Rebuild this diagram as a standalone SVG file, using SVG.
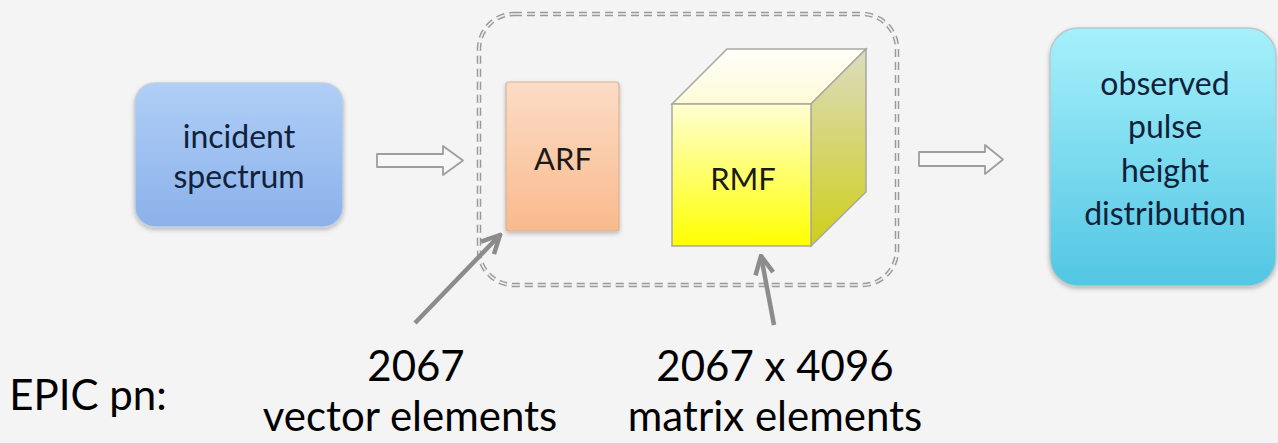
<svg xmlns="http://www.w3.org/2000/svg" width="1278" height="443" viewBox="0 0 1278 443">
<style>
.lbl{font-family:Lato,"Open Sans","Liberation Sans",sans-serif;text-anchor:middle}
.box{font-size:32px;fill:#10213a}
.big{font-size:42px;fill:#000}
.hollow{fill:#f7f7f7;stroke:#9e9e9e;stroke-width:1.8;stroke-linejoin:round}
.ptr{stroke:#8c8c8c;stroke-width:4.5;fill:none;stroke-linecap:butt}
</style>
<defs>
<linearGradient id="gBlue" x1="0" y1="0" x2="0" y2="1"><stop offset="0" stop-color="#b0cff7"/><stop offset="1" stop-color="#8bb1ea"/></linearGradient>
<linearGradient id="gPeach" x1="0" y1="0" x2="0" y2="1"><stop offset="0" stop-color="#fcdcc6"/><stop offset="1" stop-color="#f9ba8c"/></linearGradient>
<linearGradient id="gCyan" x1="0" y1="0" x2="0" y2="1"><stop offset="0" stop-color="#a6f0fb"/><stop offset="1" stop-color="#52c6e3"/></linearGradient>
<linearGradient id="gFront" x1="0" y1="0" x2="0" y2="1"><stop offset="0" stop-color="#ffffd2"/><stop offset="1" stop-color="#ffff00"/></linearGradient>
<linearGradient id="gTop" x1="0" y1="0" x2="0" y2="1"><stop offset="0" stop-color="#fffffa"/><stop offset="1" stop-color="#fdfbd6"/></linearGradient>
<linearGradient id="gSide" x1="0" y1="0" x2="0" y2="1"><stop offset="0" stop-color="#dcdcc0"/><stop offset="1" stop-color="#cfcf1a"/></linearGradient>
<filter id="sh" x="-10%" y="-10%" width="120%" height="125%"><feDropShadow dx="0" dy="2" stdDeviation="2" flood-color="#000" flood-opacity="0.25"/></filter>
<marker id="vh" viewBox="0 0 10 10" refX="9" refY="5" markerWidth="5" markerHeight="5" orient="auto" markerUnits="strokeWidth"><path d="M1,1 L9,5 L1,9" fill="none" stroke="#8c8c8c" stroke-width="2"/></marker>
</defs>
<rect width="1278" height="443" fill="#f4f4f4"/>

<g id="group-frame">
<rect x="479" y="14" width="418" height="271" rx="35" fill="none" stroke="#9a9a9a" stroke-width="4.5" stroke-dasharray="8 5"/>
<rect x="479" y="14" width="418" height="271" rx="35" fill="none" stroke="#f0f0f0" stroke-width="1.6" stroke-dasharray="8 5"/>
</g>

<g id="node-incident">
<rect x="135" y="83" width="208" height="144" rx="20" fill="url(#gBlue)" stroke="#c4cfdc" stroke-width="1.5" filter="url(#sh)"/>
<text class="lbl box" x="239" y="148">incident</text>
<text class="lbl box" x="239" y="188">spectrum</text>
</g>

<g id="node-arf">
<rect x="506" y="82" width="113" height="149" rx="3" fill="url(#gPeach)" stroke="#d8b39a" stroke-width="1.2" filter="url(#sh)"/>
<text class="lbl" x="563" y="170" style="font-size:31px;fill:#1a1a1a">ARF</text>
</g>

<g id="node-rmf">
<polygon points="672,104 727,49 866,49 811,104" fill="url(#gTop)" stroke="#a8a8a0" stroke-width="1.5"/>
<polygon points="811,104 866,49 866,192 811,246" fill="url(#gSide)" stroke="#a8a8a0" stroke-width="1.5"/>
<rect x="672" y="104" width="139" height="142" fill="url(#gFront)" stroke="#a8a8a0" stroke-width="1.5"/>
<text class="lbl" x="743" y="190" style="font-size:31px;fill:#1a1a1a">RMF</text>
</g>

<g id="node-observed">
<rect x="1050" y="28" width="226" height="258" rx="28" fill="url(#gCyan)" stroke="#b8c8cc" stroke-width="1.5" filter="url(#sh)"/>
<text class="lbl box" x="1165" y="95">observed</text>
<text class="lbl box" x="1165" y="138">pulse</text>
<text class="lbl box" x="1165" y="182">height</text>
<text class="lbl box" x="1165" y="225">distribution</text>
</g>

<g id="connectors">
<path class="hollow" d="M377,154 H443 V146 L463,160.5 L443,175 V167 H377 Z"/>
<path class="hollow" d="M919,152 H985 V145 L1003,159.5 L985,174 V166 H919 Z"/>
<line class="ptr" x1="415" y1="323" x2="500" y2="235" marker-end="url(#vh)"/>
<line class="ptr" x1="774" y1="325" x2="761" y2="256" marker-end="url(#vh)"/>
</g>

<g id="labels">
<text class="lbl big" x="88" y="410">EPIC pn:</text>
<text class="lbl big" x="416" y="381">2067</text>
<text class="lbl big" x="410" y="431">vector elements</text>
<text class="lbl big" x="775" y="381">2067 x 4096</text>
<text class="lbl big" x="775" y="431">matrix elements</text>
</g>
</svg>
